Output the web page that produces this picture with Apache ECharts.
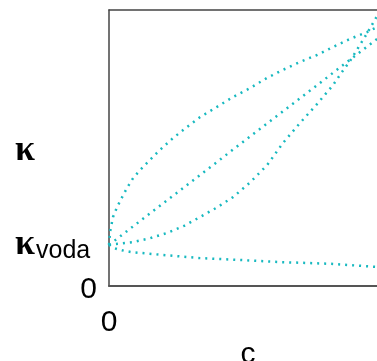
<!DOCTYPE html>
<html>
<head>
<meta charset="utf-8">
<script src="https://cdn.jsdelivr.net/npm/echarts@6/dist/echarts.min.js"></script>
<style>
  html, body { margin: 0; padding: 0; background: #fff; }
  #chart { width: 377px; height: 361px; }
</style>
</head>
<body>
<div id="chart"></div>
<script>
// curves, x = c (0..1), y = kappa (0..1)
const concave = [[0, 0.149], [0.004, 0.196], [0.015, 0.25], [0.03, 0.286], [0.049, 0.322], [0.067, 0.355],
  [0.09, 0.391], [0.116, 0.42], [0.153, 0.457], [0.19, 0.493], [0.239, 0.536], [0.291, 0.576], [0.34, 0.612],
  [0.403, 0.649], [0.463, 0.685], [0.526, 0.717], [0.59, 0.754], [0.649, 0.783], [0.713, 0.812], [0.776, 0.837],
  [0.836, 0.866], [0.899, 0.895], [0.963, 0.92], [1, 0.938]];
const straight = [[0, 0.149], [0.25, 0.335], [0.5, 0.522], [0.75, 0.708], [1, 0.895]];
const convex = [[0, 0.149], [0.09, 0.159], [0.153, 0.173], [0.216, 0.192], [0.28, 0.218], [0.34, 0.25],
  [0.4, 0.283], [0.463, 0.322], [0.526, 0.375], [0.59, 0.438], [0.649, 0.518], [0.713, 0.591], [0.776, 0.659],
  [0.836, 0.728], [0.869, 0.775], [0.899, 0.815], [0.929, 0.862], [0.966, 0.92], [1, 0.978]];
const falling = [[0, 0.149], [0.012, 0.14], [0.03, 0.134], [0.055, 0.128], [0.082, 0.123], [0.16, 0.116],
  [0.34, 0.101], [0.493, 0.094], [0.631, 0.087], [0.836, 0.08], [1, 0.069]];

const kVoda = 0.149;
const kMark = 0.49;

const chart = echarts.init(document.getElementById('chart'));
const font = 'Liberation Sans, Arial, sans-serif';
const dotted = { color: '#18b9c0', width: 2.5, type: [2, 5] };

const mkLine = (data) => ({
  type: 'line',
  data: data,
  smooth: false,
  symbol: 'none',
  lineStyle: dotted,
  xAxisIndex: 0,
  yAxisIndex: 0,
});

chart.setOption({
  animation: false,
  grid: { left: 109, right: 0, top: 10, bottom: 75, outerBoundsMode: 'none', containLabel: false },
  xAxis: [
    {
      type: 'value', min: 0, max: 1, position: 'bottom',
      name: 'c', nameLocation: 'middle', nameGap: 54, nameMoveOverlap: false,
      nameTextStyle: { fontSize: 30, fontFamily: font, color: '#000', padding: [0, 0, 0, 10] },
      axisLine: { show: true, onZero: false, lineStyle: { color: '#555', width: 2 } },
      axisTick: { show: false },
      splitLine: { show: false },
      axisLabel: { customValues: [0], formatter: () => '0', fontSize: 30, fontFamily: font, color: '#000', margin: 22 },
    },
    {
      type: 'value', min: 0, max: 1, position: 'top',
      axisLine: { show: true, onZero: false, lineStyle: { color: '#444', width: 1.5 } },
      axisTick: { show: false }, axisLabel: { show: false }, splitLine: { show: false },
    },
  ],
  yAxis: [
    {
      type: 'value', min: 0, max: 1, position: 'left',
      axisLine: { show: true, onZero: false, lineStyle: { color: '#444', width: 1.5 } },
      axisTick: { show: false },
      splitLine: { show: false },
      axisLabel: {
        customValues: [0], formatter: () => '{z|0}', margin: 12,
        rich: { z: { fontSize: 30, fontFamily: font, color: '#000', padding: [8, 0, 0, 0] } },
      },
    },
    {
      type: 'value', min: 0, max: 1, position: 'left',
      axisLine: { show: false }, axisTick: { show: false }, splitLine: { show: false },
      axisLabel: {
        customValues: [kVoda, kMark],
        align: 'left',
        margin: 94,
        fontFamily: font,
        color: '#000',
        formatter: (v) => (v === kVoda ? '{k|κ}{s|voda}' : '{k|κ}'),
        rich: {
          k: { fontSize: 36, fontWeight: 'bold', fontFamily: 'Liberation Serif, serif', color: '#000' },
          s: { fontSize: 25, fontFamily: font, color: '#000', padding: [12, 0, 0, 1] },
        },
      },
    },
  ],
  series: [mkLine(concave), mkLine(straight), mkLine(convex), mkLine(falling)],
});
</script>
</body>
</html>
